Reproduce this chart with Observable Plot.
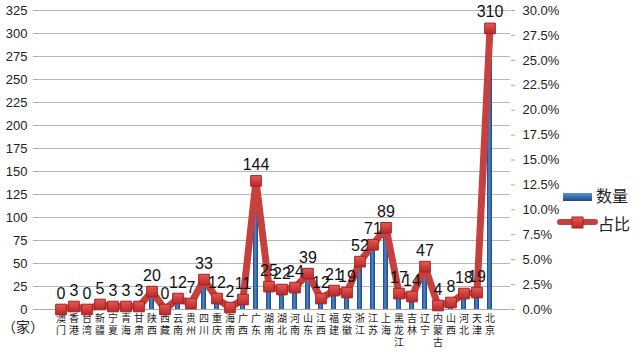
<!DOCTYPE html>
<html><head><meta charset="utf-8">
<script src="https://cdn.jsdelivr.net/npm/d3@7"></script>
<script src="https://cdn.jsdelivr.net/npm/@observablehq/plot@0.6"></script>
<style>
body{margin:0;background:#fff;}
#wrap{position:relative;width:643px;height:354px;font-family:"Liberation Sans","Noto Sans CJK SC",sans-serif;}
#legend{position:absolute;left:555px;top:180px;}
#unit{position:absolute;left:2px;top:318px;font-size:14px;line-height:16px;font-family:"Noto Sans CJK SC",sans-serif;color:#222;z-index:2;}
</style></head>
<body><div id="wrap"></div>
<script>
const regions = ["澳门","香港","台湾","新疆","宁夏","青海","甘肃","陕西","西藏","云南","贵州","四川","重庆","海南","广西","广东","湖南","湖北","河南","山东","江西","福建","安徽","浙江","江苏","上海","黑龙江","吉林","辽宁","内蒙古","山西","河北","天津","北京"];
const counts = [0,3,0,5,3,3,3,20,0,12,7,33,12,2,11,144,25,22,24,39,12,21,19,52,71,89,17,14,47,4,8,18,19,310];
const shares = [0,0.3,0,0.5,0.3,0.3,0.3,1.8,0,1.1,0.6,3.0,1.1,0.2,1.0,12.9,2.3,2.0,2.2,3.6,1.1,1.9,1.7,4.8,6.5,8.2,1.6,1.3,4.3,0.4,0.7,1.6,1.7,28.2];
const leftTicks = [0,25,50,75,100,125,150,175,200,225,250,275,300,325];
const rightTicks = [0,2.5,5,7.5,10,12.5,15,17.5,20,22.5,25,27.5,30];
const seriesNames = ["数量","占比"];
const unitLabel = "（家）";

const yMax = 325, pMax = 30;
const toY = p => p * yMax / pMax;
const data = regions.map((r,i)=>({region:r, count:counts[i], share:shares[i], yShare: toY(shares[i])}));
const chars = regions.flatMap(r => r.split("").map((c,k)=>({region:r, ch:c, k})));

const defs = () => {
  const ns = "http://www.w3.org/2000/svg";
  const d = document.createElementNS(ns,"defs");
  d.innerHTML = `<linearGradient id="barGrad" x1="0" x2="1" y1="0" y2="0">
    <stop offset="0" stop-color="#1a4580"/><stop offset="0.45" stop-color="#4f86d0"/>
    <stop offset="1" stop-color="#1a4580"/></linearGradient>
    <linearGradient id="mkGrad" x1="0" x2="0" y1="0" y2="1">
    <stop offset="0" stop-color="#e45a55"/><stop offset="1" stop-color="#b9282a"/></linearGradient>`;
  return d;
};

const charMarks = [0,1,2].map(k => Plot.text(chars.filter(d => d.k === k), {
  x: "region", y: 0, text: "ch", dy: 9 + k * 12, lineAnchor: "middle", fontSize: 10,
  fontFamily: '"Noto Sans CJK SC",sans-serif', fill: "#222"}));

const plot = Plot.plot({
  width: 643, height: 354,
  marginLeft: 39, marginRight: 133, marginTop: 10, marginBottom: 45,
  style: {fontFamily: '"Liberation Sans","Noto Sans CJK SC",sans-serif', fontSize: "13px", color:"#222"},
  x: {domain: regions, padding: 0, label: null, axis: null},
  y: {domain: [0, yMax], label: null},
  marks: [
    defs,
    Plot.gridY(leftTicks, {stroke: "#b8b8b8", strokeOpacity: 1}),
    Plot.axisY(leftTicks, {anchor: "left", tickSize: 6, stroke:"#aaa", label: null, fontSize: 13, tickPadding: 6}),
    Plot.axisY(rightTicks.map(toY), {anchor: "right", tickSize: 4, stroke:"#aaa", label: null, fontSize: 13, tickPadding: 8,
      tickFormat: d => (d * pMax / yMax).toFixed(1) + "%"}),
    ...charMarks,
    Plot.ruleY([0], {stroke: "#aaa"}),
    Plot.barY(data, {x: "region", y: "count", fill: "url(#barGrad)", insetLeft: 4, insetRight: 4}),
    Plot.lineY(data, {x: "region", y: "yShare", stroke: "#c6403d", strokeWidth: 7, strokeLinejoin: "round"}),
    Plot.dot(data, {x: "region", y: "yShare", symbol: "square", r: 6, fill: "url(#mkGrad)", stroke: "#a52220", strokeWidth: 1}),
    Plot.text(data, {x: "region", y: "yShare", text: d => String(d.count), dy: -11, lineAnchor: "bottom", fontSize: 16, fill: "#111"})
  ]
});
const wrap = document.getElementById("wrap");
plot.style.position = "absolute"; plot.style.left = "0"; plot.style.top = "0";
wrap.appendChild(plot);

const unit = document.createElement("div");
unit.id = "unit"; unit.textContent = unitLabel;
wrap.appendChild(unit);

const ns = "http://www.w3.org/2000/svg";
const lg = document.createElementNS(ns, "svg");
lg.setAttribute("width", 80); lg.setAttribute("height", 60);
lg.setAttribute("id", "legend");
lg.innerHTML = `
<defs><linearGradient id="lgGrad" x1="0" x2="0" y1="0" y2="1"><stop offset="0" stop-color="#5b8fd6"/><stop offset="1" stop-color="#1d4a86"/></linearGradient>
<linearGradient id="lgMk" x1="0" x2="0" y1="0" y2="1"><stop offset="0" stop-color="#e45a55"/><stop offset="1" stop-color="#b9282a"/></linearGradient></defs>
<rect x="8" y="13" width="29" height="8" fill="url(#lgGrad)"/>
<text x="41" y="22" font-size="16" font-family="Noto Sans CJK SC" fill="#222">${seriesNames[0]}</text>
<line x1="5" x2="40" y1="42" y2="42" stroke="#c6403d" stroke-width="6" stroke-linecap="round"/>
<rect x="17" y="37" width="11" height="11" fill="url(#lgMk)" stroke="#a52220"/>
<text x="43" y="50" font-size="16" font-family="Noto Sans CJK SC" fill="#222">${seriesNames[1]}</text>`;
wrap.appendChild(lg);
</script></body></html>
